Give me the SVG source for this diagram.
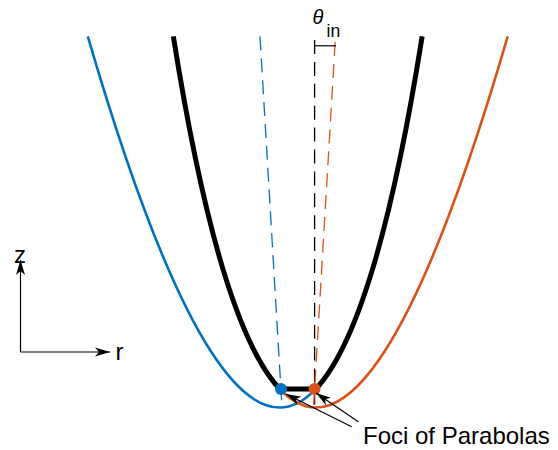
<svg xmlns="http://www.w3.org/2000/svg" width="558" height="450" viewBox="0 0 558 450">
<style>
.lbl{font-family:"Liberation Sans",Arial,sans-serif;fill:#000}
.thin{fill:none;stroke:#000;stroke-width:1.2}
.dash{fill:none;stroke-width:1.3;stroke-dasharray:14 7.9}
</style>
<defs>
<marker id="ah" markerUnits="userSpaceOnUse" viewBox="-16 -6 17 12" refX="0" refY="0" markerWidth="17" markerHeight="12" orient="auto">
<path d="M0,0 L-15,-4.5 L-11,0 L-15,4.5 Z" fill="#000"/>
</marker>
</defs>
<rect width="558" height="450" fill="#fff"/>
<g id="dashed-axes">
<line class="dash" x1="260" y1="36.5" x2="281.86" y2="405" stroke="#0072BD"/>
<line class="dash" x1="314.6" y1="40" x2="314.6" y2="405" stroke="#000"/>
<line class="dash" x1="335.17" y1="42" x2="313.64" y2="405" stroke="#D95319"/>
</g>
<g id="blue-parabola">
<path d="M87.8,36.34 Q219.48,487.84 314.67,390.17" fill="none" stroke="#0072BD" stroke-width="2.6"/>
</g>
<g id="orange-parabola">
<path d="M280.83,390.17 Q376.02,487.84 507.7,36.34" fill="none" stroke="#D95319" stroke-width="2.6"/>
</g>
<g id="concentrator">
<path d="M173.35,36.46 Q219.52,327.26 280.83,390.17" fill="none" stroke="#000" stroke-width="5"/>
<path d="M422.15,36.46 Q375.98,327.26 314.67,390.17" fill="none" stroke="#000" stroke-width="5"/>
<line x1="280.9" y1="389" x2="314.6" y2="389" stroke="#000" stroke-width="5"/>
</g>
<g id="foci">
<circle cx="281" cy="389" r="6" fill="#0072BD"/>
<circle cx="314.6" cy="389" r="6" fill="#D95319"/>
</g>
<g id="theta">
<line class="thin" x1="314.6" y1="45.8" x2="336" y2="45.8"/>
<text class="lbl" x="312.5" y="23.5" font-size="20" font-style="italic">θ</text>
<text class="lbl" x="326.5" y="36.7" font-size="17.5">in</text>
</g>
<g id="connectors">
<line class="thin" x1="20.5" y1="352" x2="20.5" y2="260" marker-end="url(#ah)"/>
<line class="thin" x1="20.5" y1="352" x2="110" y2="352" marker-end="url(#ah)"/>
<line class="thin" x1="351.7" y1="426.7" x2="286" y2="394" marker-end="url(#ah)"/>
<line class="thin" x1="358.3" y1="421.7" x2="316" y2="393" marker-end="url(#ah)"/>
</g>
<g id="labels">
<text class="lbl" x="14" y="262.7" font-size="24">z</text>
<text class="lbl" x="115.5" y="360" font-size="24">r</text>
<text class="lbl" x="363" y="444" font-size="24">Foci of Parabolas</text>
</g>
</svg>
